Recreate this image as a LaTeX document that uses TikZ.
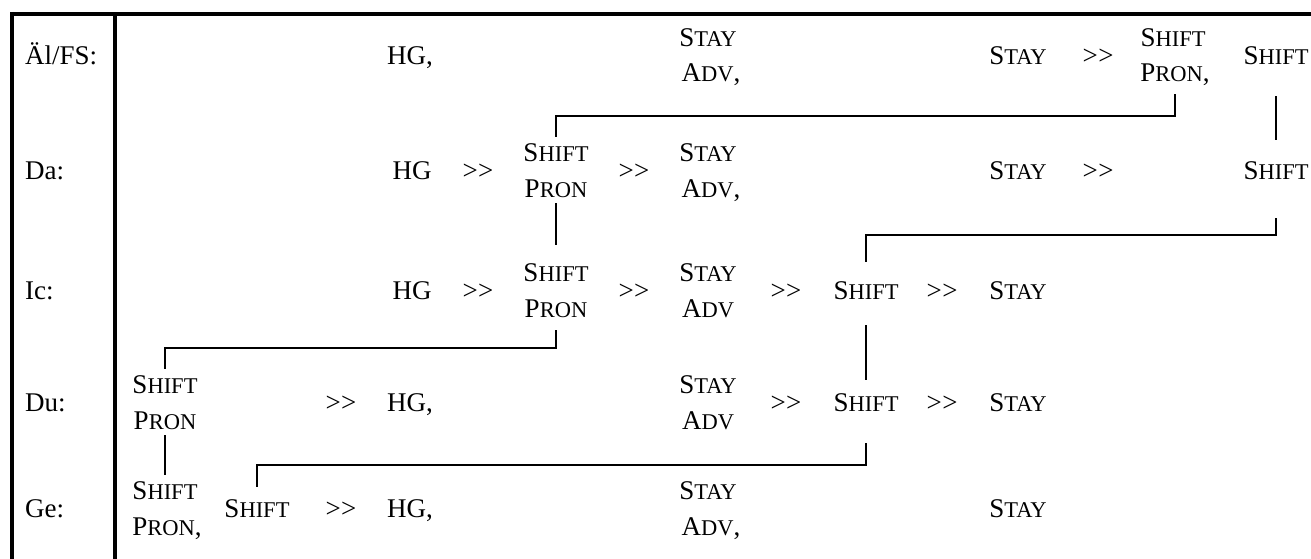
\documentclass[tikz,border=0pt]{standalone}
\usepackage{fontspec}
\setmainfont{Liberation Serif}
% small capitals built from a full-size initial and reduced capitals
\newcommand\smcp[2]{#1{\fontsize{22.5}{26}\selectfont #2}}
\newcommand\Shift{\smcp{S}{HIFT}}
\newcommand\Stay{\smcp{S}{TAY}}
\newcommand\Pron{\smcp{P}{RON}}
\newcommand\Adv{\smcp{A}{DV}}
% two separate greater-than signs (kept apart from the guillemet ligature)
\newcommand\GG{>\kern0.5pt>}
\begin{document}
\begin{tikzpicture}[x=1pt,y=-1pt,
  w/.style={inner xsep=0pt, inner ysep=6pt, text height=18pt, text depth=0pt,
            font=\fontsize{27}{32}\selectfont},
  lab/.style={w, anchor=west},
  link/.style={line width=1.5pt},
  frame/.style={line width=4pt}]
\useasboundingbox (0,0) rectangle (1311,559);

% frame of the table
\draw[frame] (10,14) -- (1311,14);
\draw[frame] (12,12) -- (12,559);
\draw[frame] (115,14) -- (115,559);

% row labels
\node[lab] (la) at (25,56)  {Äl/FS:};
\node[lab] (lb) at (25,170) {Da:};
\node[lab] (lc) at (25,290) {Ic:};
\node[lab] (ld) at (25,402) {Du:};
\node[lab] (le) at (25,508) {Ge:};

% Äl/FS
\node[w] (a_hg)    at (410,56)  {HG,};
\node[w] (a_stay)  at (708,38)  {\Stay};
\node[w] (a_adv)   at (711,73)  {\Adv,};
\node[w] (a_stay2) at (1018,56) {\Stay};
\node[w] (a_g1)    at (1098,56) {\GG};
\node[w] (a_shift) at (1173,38) {\Shift};
\node[w] (a_pron)  at (1175,73) {\Pron,};
\node[w] (a_shift2) at (1276,56) {\Shift};

% Da
\node[w] (b_hg)    at (412,170) {HG};
\node[w] (b_g1)    at (478,170) {\GG};
\node[w] (b_shift) at (556,152) {\Shift};
\node[w] (b_pron)  at (556,188) {\Pron};
\node[w] (b_g2)    at (634,170) {\GG};
\node[w] (b_stay)  at (708,152) {\Stay};
\node[w] (b_adv)   at (711,188) {\Adv,};
\node[w] (b_stay2) at (1018,170) {\Stay};
\node[w] (b_g3)    at (1098,170) {\GG};
\node[w] (b_shift2) at (1276,170) {\Shift};

% Ic
\node[w] (c_hg)    at (412,290) {HG};
\node[w] (c_g1)    at (478,290) {\GG};
\node[w] (c_shift) at (556,272) {\Shift};
\node[w] (c_pron)  at (556,308) {\Pron};
\node[w] (c_g2)    at (634,290) {\GG};
\node[w] (c_stay)  at (708,272) {\Stay};
\node[w] (c_adv)   at (708,308) {\Adv};
\node[w] (c_g3)    at (786,290) {\GG};
\node[w] (c_shift2) at (866,290) {\Shift};
\node[w] (c_g4)    at (942,290) {\GG};
\node[w] (c_stay2) at (1018,290) {\Stay};

% Du
\node[w] (d_shift) at (165,384) {\Shift};
\node[w] (d_pron)  at (165,420) {\Pron};
\node[w] (d_g1)    at (341,402) {\GG};
\node[w] (d_hg)    at (410,402) {HG,};
\node[w] (d_stay)  at (708,384) {\Stay};
\node[w] (d_adv)   at (708,420) {\Adv};
\node[w] (d_g2)    at (786,402) {\GG};
\node[w] (d_shift2) at (866,402) {\Shift};
\node[w] (d_g3)    at (942,402) {\GG};
\node[w] (d_stay2) at (1018,402) {\Stay};

% Ge
\node[w] (e_shift) at (165,490) {\Shift};
\node[w] (e_pron)  at (167,526) {\Pron,};
\node[w] (e_shift2) at (257,508) {\Shift};
\node[w] (e_g1)    at (341,508) {\GG};
\node[w] (e_hg)    at (410,508) {HG,};
\node[w] (e_stay)  at (708,490) {\Stay};
\node[w] (e_adv)   at (711,526) {\Adv,};
\node[w] (e_stay2) at (1018,508) {\Stay};

% links between the rows
\draw[link, shorten <=6pt] (a_pron.south) -- (a_pron.south |- 0,116) -| (b_shift.north);
\draw[link, shorten <=25pt, shorten >=15pt] (a_shift2.south) -- (b_shift2.north);
\draw[link, shorten >=12pt] (b_pron.south) -- (c_shift.north);
\draw[link, shorten <=33pt, shorten >=13pt] (b_shift2.south) -- (b_shift2.south |- 0,235) -| (c_shift2.north);
\draw[link, shorten <=7pt] (c_pron.south) -- (c_pron.south |- 0,348) -| (d_shift.north);
\draw[link, shorten <=20pt, shorten >=7pt] (c_shift2.south) -- (d_shift2.north);
\draw[link] (d_pron.south) -- (e_shift.north);
\draw[link, shorten <=26pt, shorten >=6pt] (d_shift2.south) -- (d_shift2.south |- 0,465) -| (e_shift2.north);
\end{tikzpicture}
\end{document}
